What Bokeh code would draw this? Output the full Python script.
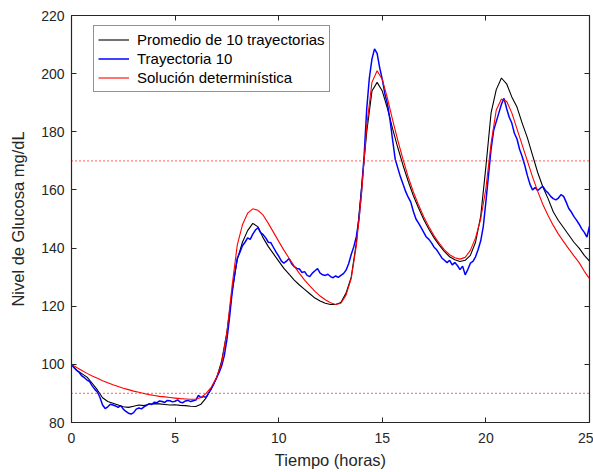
import numpy as np
from bokeh.plotting import figure
from bokeh.models import Legend, LegendItem, LinearAxis, FixedTicker, Span
from bokeh.embed import file_html
from bokeh.resources import INLINE

# ---------------- data ----------------
x_ticks = [0, 5, 10, 15, 20, 25]
y_ticks = [80, 100, 120, 140, 160, 180, 200, 220]
thresholds = [90, 170]

# time grid (hours)
t_coarse = np.arange(0, 25.0001, 0.25)   # 101 samples
t_fine = np.arange(0, 25.0001, 0.125)    # 201 samples

# Solución determinística (red)
red_vals = [
    100.0, 98.9, 97.9, 96.9,
    96.0, 95.2, 94.4, 93.7,
    93.0, 92.4, 91.8, 91.3,
    90.8, 90.4, 90.0, 89.6,
    89.3, 89.0, 88.8, 88.6,
    88.4, 88.2, 88.1, 88.0,
    88.0, 88.6, 90.0, 92.2,
    95.5, 100.5, 111.0, 127.0,
    141.0, 148.0, 152.0, 153.5,
    153.0, 151.3, 148.5, 145.4,
    142.3, 139.3, 136.5, 133.8,
    131.3, 129.0, 127.0, 125.1,
    123.5, 122.2, 121.2, 120.6,
    121.0, 123.8, 129.5, 141.0,
    159.0, 182.0, 197.0, 201.0,
    198.0, 191.5, 184.0, 177.0,
    170.5, 164.5, 159.3, 154.8,
    150.8, 147.3, 144.2, 141.6,
    139.4, 137.7, 136.7, 136.2,
    136.8, 139.2, 143.5, 150.0,
    160.5, 176.0, 187.5, 191.3,
    190.5, 186.5, 181.0, 175.5,
    170.0, 164.5, 159.5, 155.0,
    151.2, 147.8, 144.8, 142.2,
    139.7, 137.3, 135.0, 132.0,
    129.5,
]

# Promedio de 10 trayectorias (black)
black_vals = [
    100.0, 98.0, 96.8, 95.6,
    93.5, 91.2, 88.5, 87.2,
    86.6, 86.0, 85.4, 85.2,
    85.6, 86.0, 85.8, 86.3,
    86.5, 86.4, 86.2, 86.0,
    86.1, 85.9, 85.8, 85.6,
    85.5, 86.3, 88.5, 91.8,
    95.2, 101.3, 111.0, 125.0,
    136.0, 142.0, 146.0, 148.5,
    147.3, 143.5, 140.5, 138.0,
    135.5, 133.0, 131.0, 129.0,
    127.3, 125.8, 124.3, 122.8,
    121.8, 121.0, 120.6, 120.6,
    121.3, 124.5, 130.0, 142.0,
    161.0, 180.0, 194.0, 197.0,
    194.0, 188.0, 181.0, 174.5,
    168.5, 163.0, 158.0, 153.8,
    149.8, 146.5, 143.5, 141.0,
    138.8, 137.0, 136.0, 135.4,
    135.8, 137.5, 142.0, 151.0,
    168.0, 186.5, 194.5, 198.5,
    196.5, 192.0, 188.5, 183.0,
    178.0, 172.0, 166.0, 161.0,
    157.0, 152.5, 149.5, 147.0,
    144.5, 142.0, 140.0, 137.5,
    135.5,
]

# Trayectoria 10 (blue)
blue_vals = [
    100.0, 98.8, 97.9, 97.2, 96.0, 95.4, 94.6, 94.1,
    92.6, 91.4, 90.5, 88.6, 86.0, 84.8, 85.4, 86.3,
    86.0, 85.7, 85.2, 85.8, 84.6, 83.8, 83.2, 82.9,
    83.4, 84.6, 85.0, 84.7, 85.4, 85.9, 86.5, 86.2,
    87.0, 86.8, 87.4, 87.2, 86.9, 87.6, 87.5, 87.1,
    87.3, 87.8, 87.0, 86.8, 87.4, 87.6, 87.2, 87.5,
    87.7, 89.3, 88.6, 88.9, 88.7, 90.2, 91.6, 93.4,
    95.4, 97.2, 99.5, 103.0, 108.5, 116.0, 124.5, 131.0,
    136.5, 138.5, 140.8, 142.0, 143.5, 143.0, 144.8, 146.2,
    147.0, 145.3, 144.6, 143.5, 142.0, 141.8, 140.2, 138.6,
    137.2, 135.6, 134.8, 135.5, 136.4, 134.6, 133.6, 133.0,
    132.8, 131.6, 131.9, 130.6, 130.2, 131.4, 132.2, 132.9,
    131.4, 130.8, 130.6, 131.0, 130.2, 129.8, 130.4, 129.9,
    130.6, 131.2, 132.4, 134.6, 137.8, 140.5, 144.0, 150.0,
    160.0, 172.0, 188.0, 198.5, 205.0, 208.5, 207.0, 202.0,
    198.0, 193.0, 189.5, 184.0, 177.0, 170.5, 167.5, 164.5,
    162.0, 159.5, 157.5, 155.8, 152.6, 150.0, 148.6, 147.0,
    145.4, 143.8, 143.0, 141.8, 140.3, 139.4, 138.0, 136.6,
    135.8, 135.0, 135.8, 134.2, 135.0, 134.0, 132.6, 133.8,
    130.8, 132.6, 134.8, 135.4, 137.0, 139.5, 142.5, 147.5,
    156.0, 165.0, 174.0, 180.5, 183.5, 186.5, 189.5, 191.5,
    188.0, 185.0, 183.0, 179.5, 177.5, 174.0, 171.5, 168.5,
    165.0, 162.0, 160.0, 160.8, 159.8, 160.6, 161.2, 159.8,
    159.0, 157.8, 157.0, 156.6, 157.2, 158.4, 157.8, 155.8,
    153.6, 152.4, 150.8, 149.6, 148.2, 146.6, 145.4, 143.8,
    147.5,
]

labels = ["Promedio de 10 trayectorias", "Trayectoria 10", "Solución determinística"]
x_label = "Tiempo (horas)"
y_label = "Nivel de Glucosa mg/dL"

# ---------------- figure ----------------
FONT = "Liberation Sans"
AX = "#262626"

p = figure(width=593, height=472, x_range=(0, 25), y_range=(80, 220),
           output_backend="svg", toolbar_location=None,
           min_border_left=71, min_border_right=4, min_border_top=15, min_border_bottom=50)
p.xgrid.visible = False
p.ygrid.visible = False
p.outline_line_color = AX
p.outline_line_width = 1.2
p.background_fill_color = "white"
p.border_fill_color = "white"

def style_axis(ax, ticks):
    ax.ticker = FixedTicker(ticks=ticks)
    ax.major_tick_in = 5
    ax.major_tick_out = 0
    ax.minor_tick_in = 0
    ax.minor_tick_out = 0
    ax.axis_line_color = AX
    ax.major_tick_line_color = AX
    ax.major_label_text_font = FONT
    ax.major_label_text_font_size = "14px"
    ax.major_label_text_color = AX
    ax.axis_label_text_font = FONT
    ax.axis_label_text_font_size = "16.5px"
    ax.axis_label_text_font_style = "normal"
    ax.axis_label_text_color = AX

xa = p.xaxis[0]
ya = p.yaxis[0]
style_axis(xa, x_ticks)
style_axis(ya, y_ticks)
xa.axis_label = x_label
ya.axis_label = y_label
xa.major_label_standoff = 10
xa.axis_label_standoff = 5
ya.major_label_standoff = 7
ya.axis_label_standoff = 11

# box ticks on the top and right
for loc, ticks in (("right", y_ticks), ("above", x_ticks)):
    ax2 = LinearAxis(ticker=FixedTicker(ticks=ticks), major_tick_in=5, major_tick_out=0,
                     minor_tick_in=0, minor_tick_out=0, axis_line_color=None,
                     major_tick_line_color=AX, major_label_text_color=None,
                     major_label_text_font_size="0px", major_label_standoff=0)
    p.add_layout(ax2, loc)

for thr in thresholds:
    p.add_layout(Span(location=thr, dimension="width", line_color="#ff0000",
                      line_width=1.2, line_dash="1 3"))

r_black = p.line(t_coarse, black_vals, line_color="black", line_width=1.1)
r_blue = p.line(t_fine, blue_vals, line_color="#0000ff", line_width=1.5)
r_red = p.line(t_coarse, red_vals, line_color="#ff0000", line_width=1.1)

legend = Legend(items=[LegendItem(label=labels[0], renderers=[r_black]),
                       LegendItem(label=labels[1], renderers=[r_blue]),
                       LegendItem(label=labels[2], renderers=[r_red])],
                location=(22, 330), orientation="vertical",
                border_line_color=AX, border_line_width=1.3,
                background_fill_color="white", background_fill_alpha=1.0,
                label_text_font=FONT, label_text_font_size="15px", label_text_color="black",
                glyph_width=31, glyph_height=19, label_height=19, label_standoff=8,
                padding=4, spacing=0, margin=0)
p.add_layout(legend)

open("out.html", "w").write(file_html(p, INLINE))
